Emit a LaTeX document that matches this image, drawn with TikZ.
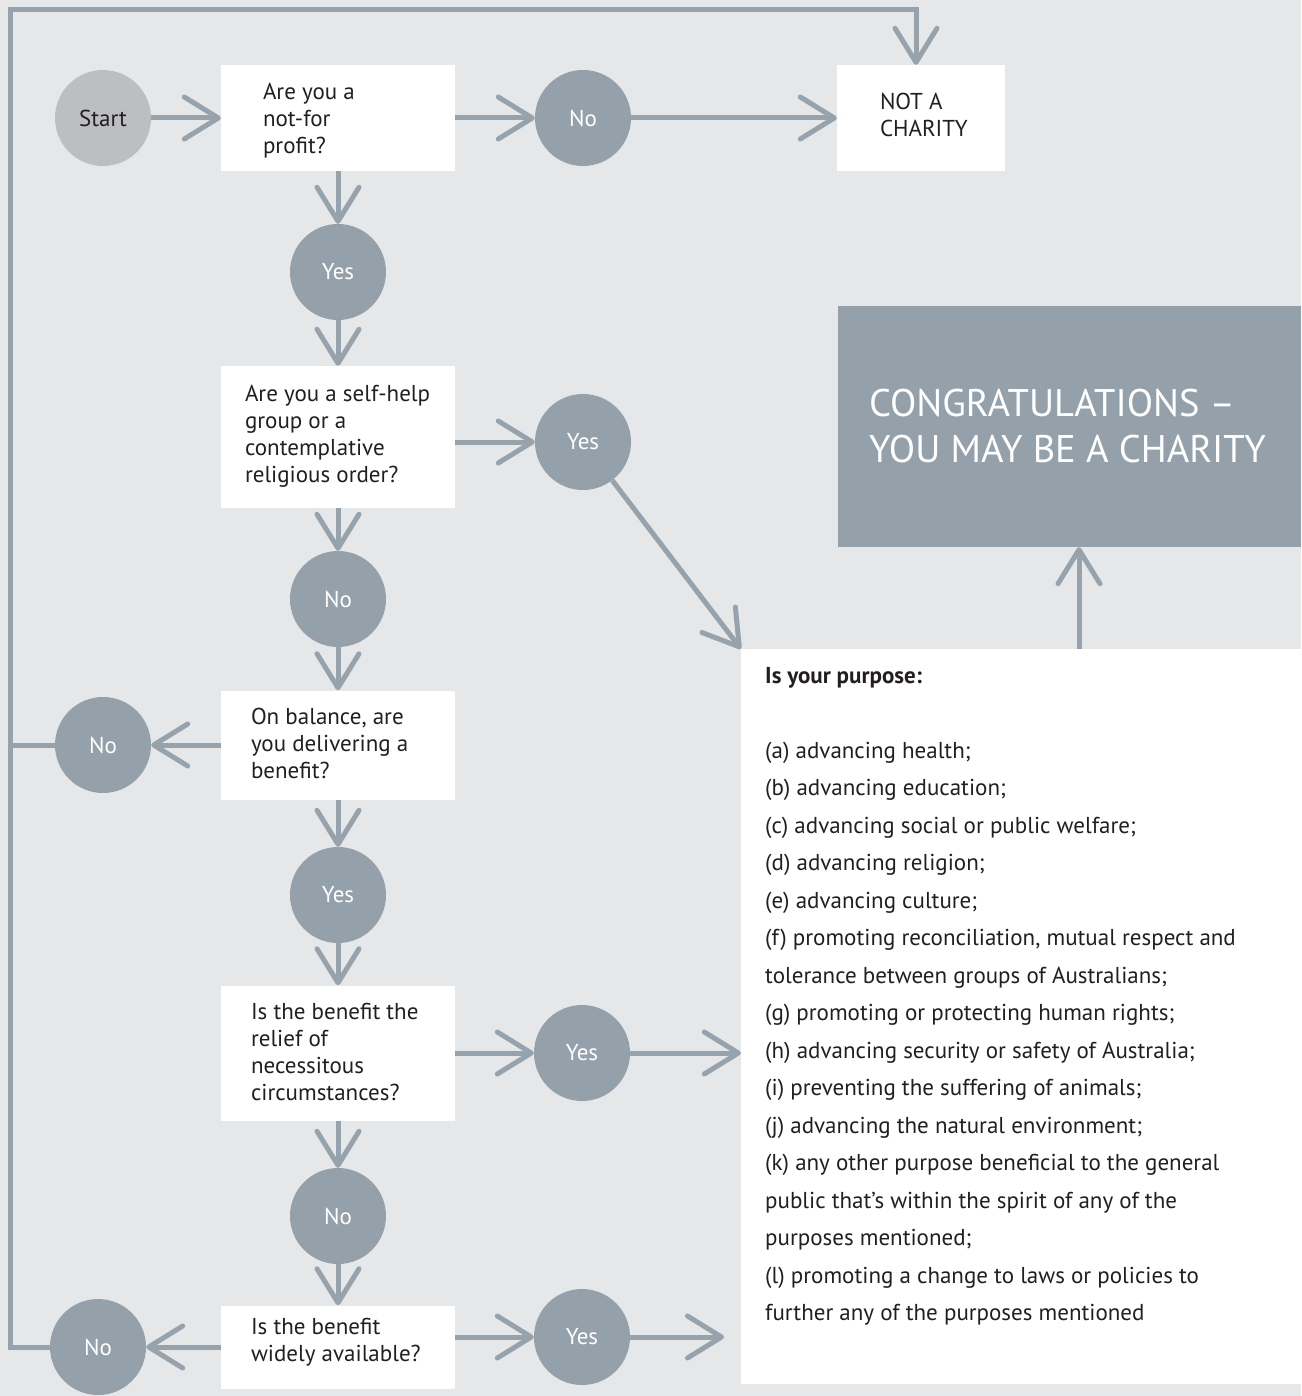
\documentclass[tikz,border=0pt]{standalone}
\usepackage{fontspec}
\setmainfont{PT Sans}
\usetikzlibrary{arrows.meta}
\definecolor{bg}{HTML}{E6E7E9}
\definecolor{lc}{HTML}{97A3AC}
\definecolor{cf}{HTML}{95A1AA}
\definecolor{sf}{HTML}{BDBEC1}
\definecolor{tx}{HTML}{231F20}
\begin{document}
\begin{tikzpicture}[x=1pt,y=-1pt,
  every node/.style={font=\fontsize{23}{27}\selectfont, text=tx},
  circ/.style={circle, fill=cf, minimum size=96, inner sep=0, text=white},
  qbox/.style={rectangle, fill=white, inner sep=0},
  lbl/.style={anchor=west, align=left, inner sep=0, text=tx},
  line/.style={draw=lc, line width=5},
  arr/.style={line, -{Straight Barb[length=34, width=42, line width=5, round]}}
]
\useasboundingbox (0,0) rectangle (1301,1396);
\fill[bg] (0,0) rectangle (1301,1396);

\coordinate (corner) at (10,10);
\coordinate (ntx) at (916,0);
\coordinate (ux) at (1079,0);
\coordinate (y5e) at (724,1337);

% nodes
\node[circ, fill=sf, text=tx] (start) at (103,118) {Start};
\node[qbox, minimum width=234, minimum height=106,
  label={[lbl, xshift=42, yshift=-3]west:Are you a\\not-for\\profit?}] (q1) at (338,118) {};
\node[circ] (no1) at (583,118) {No};
\node[qbox, minimum width=168, minimum height=106,
  label={[lbl, xshift=43, yshift=3]west:NOT A\\CHARITY}] (notc) at (921,118) {};
\node[circ] (yes1) at (338,272) {Yes};
\node[qbox, minimum width=234, minimum height=142,
  label={[lbl, xshift=24, yshift=1]west:Are you a self-help\\group or a\\contemplative\\religious order?}] (q2) at (338,437) {};
\node[circ] (yes2) at (583,442) {Yes};
\node[circ] (no2) at (338,599) {No};
\node[qbox, minimum width=234, minimum height=109,
  label={[lbl, xshift=30, yshift=2]west:On balance, are\\you delivering a\\benefit?}] (q3) at (338,745) {};
\node[circ] (no3) at (103,745) {No};
\node[circ] (yes3) at (338,895) {Yes};
\node[qbox, minimum width=234, minimum height=135,
  label={[lbl, xshift=30, yshift=1]west:Is the benefit the\\relief of\\necessitous\\circumstances?}] (q4) at (338,1053) {};
\node[circ] (yes4) at (582,1053) {Yes};
\node[circ] (no4) at (338,1216) {No};
\node[qbox, minimum width=234, minimum height=83,
  label={[lbl, xshift=30, yshift=5]west:Is the benefit\\widely available?}] (q5) at (338,1347) {};
\node[circ] (no5) at (98,1347) {No};
\node[circ] (yes5) at (582,1337) {Yes};

\node[qbox, minimum width=560, minimum height=735] (purpose) at (1021,1016.5) {};
\node[lbl, anchor=north west, font=\fontsize{23}{37.5}\selectfont] (ptext) at (765,667)
{\textbf{Is your purpose:}\\[37.5pt]
(a) advancing health;\\
(b) advancing education;\\
(c) advancing social or public welfare;\\
(d) advancing religion;\\
(e) advancing culture;\\
(f) promoting reconciliation, mutual respect and\\
tolerance between groups of Australians;\\
(g) promoting or protecting human rights;\\
(h) advancing security or safety of Australia;\\
(i) preventing the suffering of animals;\\
(j) advancing the natural environment;\\
(k) any other purpose beneficial to the general\\
public that’s within the spirit of any of the\\
purposes mentioned;\\
(l) promoting a change to laws or policies to\\
further any of the purposes mentioned};

\node[qbox, fill=cf, minimum width=463, minimum height=241,
  label={[lbl, xshift=31, text=white, font=\fontsize{38.5}{46}\selectfont]west:CONGRATULATIONS –\\YOU MAY BE A CHARITY}] (congrats) at (1069.5,426.5) {};

% connectors
\draw[arr] (start) -- (q1);
\draw[arr] (q1) -- (no1);
\draw[arr] (no1) -- (notc);
\draw[arr] (q1) -- (yes1);
\draw[arr] (yes1) -- (q2);
\draw[arr] (q2.east |- yes2) -- (yes2);
\draw[arr] (yes2) -- (purpose.north west);
\draw[arr] (q2) -- (no2);
\draw[arr] (no2) -- (q3);
\draw[arr] (q3) -- (no3);
\draw[arr] (q3) -- (yes3);
\draw[arr] (yes3) -- (q4);
\draw[arr] (q4.east |- yes4) -- (yes4);
\draw[arr] (yes4) -- (yes4 -| purpose.west);
\draw[arr] (q4) -- (no4);
\draw[arr] (no4) -- (q5);
\draw[arr] (q5) -- (no5);
\draw[arr] (q5.east |- yes5) -- (yes5);
\draw[arr] (yes5) -- (y5e);
\draw[arr] (ux |- purpose.north) -- (ux |- congrats.south);
\draw[line] (no3) -- (no3 -| corner);
\draw[arr] (no5) -| (corner) -| (ntx |- notc.north);
\end{tikzpicture}
\end{document}
